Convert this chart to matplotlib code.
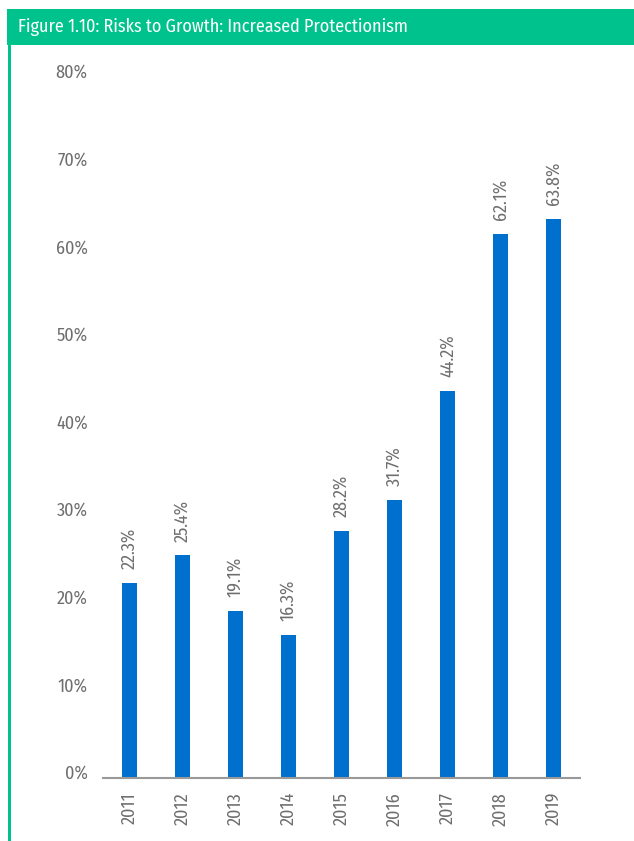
import matplotlib.pyplot as plt
from matplotlib.patches import Rectangle
from matplotlib.transforms import ScaledTranslation

# data
years = ['2011', '2012', '2013', '2014', '2015', '2016', '2017', '2018', '2019']
share = [22.3, 25.4, 19.1, 16.3, 28.2, 31.7, 44.2, 62.1, 63.8]
yticks = [0, 10, 20, 30, 40, 50, 60, 70, 80]

title = 'Figure 1.10: Risks to Growth: Increased Protectionism'
green = '#00C28C'
blue = '#0070CE'
grey = '#6e6e6e'
narrow = ['Fira Sans Condensed', 'DejaVu Sans']
wt = 'normal'

W, H = 634, 841
fig = plt.figure(figsize=(W/100, H/100), dpi=100)

# header band and left rule
fig.patches.append(Rectangle((7/W, 1-45/H), 1, 36/H, transform=fig.transFigure,
                             facecolor=green, edgecolor='none'))
fig.patches.append(Rectangle((8/W, 0), 3/W, 1-45/H, transform=fig.transFigure,
                             facecolor=green, edgecolor='none'))
fig.text(18/W, 1-27/H, title, color='white', fontsize=13, family=narrow,
         weight=wt, va='center')

ax = fig.add_axes([103/W, 1-778/H, (580-103)/W, (778-77)/H])
x = range(len(years))
ax.bar(x, share, width=0.28, color=blue)
for i, v in zip(x, share):
    ax.annotate('%.1f%%' % v, (i, v), xytext=(0, 10), textcoords='offset points',
                rotation=90, ha='center', va='bottom', color=grey,
                fontsize=13, family=narrow, weight=wt)

ax.set_xlim(-0.5, len(years)-0.5)
ax.set_ylim(0, 80)
ax.set_yticks(yticks)
ax.set_yticklabels(['%d%%' % t for t in yticks], family=narrow, weight=wt,
                   fontsize=13, color=grey)
ax.set_xticks(list(x))
ax.set_xticklabels(years, rotation=90, family=narrow, weight=wt, fontsize=13, color=grey)
ax.tick_params(axis='both', length=0)
ax.tick_params(axis='y', pad=11)
ax.tick_params(axis='x', pad=10)
for lab in ax.get_yticklabels():
    lab.set_transform(lab.get_transform() + ScaledTranslation(0, 6/100, fig.dpi_scale_trans))
for s in ['top', 'right', 'left']:
    ax.spines[s].set_visible(False)
ax.spines['bottom'].set_color('#999999')
ax.spines['bottom'].set_linewidth(1.5)

fig.savefig('out.png', dpi=100)
